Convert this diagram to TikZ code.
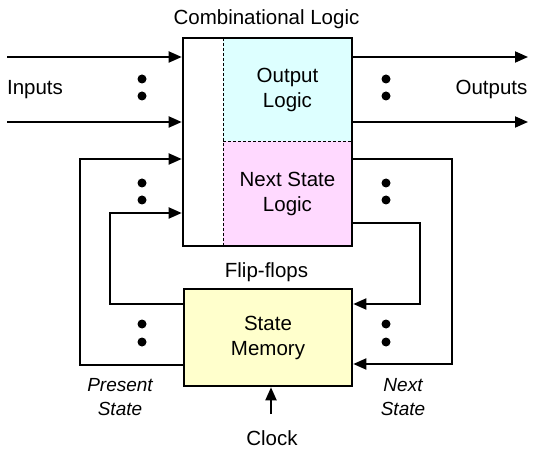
\documentclass[tikz,border=0pt]{standalone}
\usepackage{fontspec}
\setmainfont{Liberation Sans}
\usetikzlibrary{arrows.meta}
\definecolor{cyanlite}{RGB}{221,255,255}
\definecolor{pinklite}{RGB}{255,217,255}
\definecolor{yellite}{RGB}{255,255,204}
\tikzset{
  lbl/.style={font=\fontsize{20.5}{25}\selectfont, inner sep=0pt},
  ital/.style={font=\fontsize{19}{24}\selectfont\itshape, inner sep=0pt, align=center},
  region/.style={inner sep=0pt, outer sep=0pt, align=center, font=\fontsize{20.5}{25}\selectfont},
  wire/.style={line width=1.8pt},
  arr/.style={line width=1.9pt, -{Triangle[length=13pt,width=11pt]}},
  dotnode/.style={circle, fill=black, inner sep=0pt, minimum size=9pt},
  boxnode/.style={draw=black, line width=2.6pt, inner sep=0pt}
}
\begin{document}
\begin{tikzpicture}[x=1pt,y=-1pt]
\useasboundingbox (0,0) rectangle (533,449);
% regions
\node[region, fill=cyanlite, minimum width=129pt, minimum height=103pt] (outl) at (287.5,89.5) {Output\\Logic};
\node[region, fill=pinklite, minimum width=129pt, minimum height=105pt] (nsl) at (287.5,193.5) {Next State\\Logic};
\draw[line width=0.8pt, dash pattern=on 3pt off 2pt] (outl.north west) -- (nsl.south west);
\draw[line width=0.8pt, dash pattern=on 3pt off 2pt] (outl.south west) -- (outl.south east);
\node[boxnode, minimum width=169pt, minimum height=208pt] (comb) at (267.5,142) {};
\node[boxnode, fill=yellite, minimum width=168pt, minimum height=97pt, align=center, font=\fontsize{20.5}{25}\selectfont] (mem) at (268,337.5) {State\\Memory};
% labels
\node[lbl, anchor=base] (title) at (266.5,25) {Combinational Logic};
\node[lbl, anchor=base] (inputs) at (35,95) {Inputs};
\node[lbl, anchor=base] (outputs) at (491.5,95) {Outputs};
\node[lbl, anchor=base] (ff) at (266.5,278) {Flip-flops};
\node[lbl, anchor=base] (clock) at (272,445) {Clock};
\node[ital] (pres) at (120,397) {Present\\State};
\node[ital] (next) at (403,397) {Next\\State};
% coordinates
\coordinate (in1) at (7,57);
\coordinate (in2) at (7,122);
\coordinate (out1) at (528,57);
\coordinate (out2) at (528,122);
\coordinate (ro1) at (452,159);
\coordinate (ro2) at (452,364);
\coordinate (ri1) at (420,223);
\coordinate (ri2) at (420,304);
\coordinate (lo1) at (80,365);
\coordinate (lo2) at (80,159);
\coordinate (li1) at (110,304);
\coordinate (li2) at (110,213);
\coordinate (clk) at (271,414);
% wires
\draw[arr] (in1) -- (comb.west |- in1);
\draw[arr] (in2) -- (comb.west |- in2);
\draw[arr] (comb.east |- out1) -- (out1);
\draw[arr] (comb.east |- out2) -- (out2);
\draw[arr] (comb.east |- ro1) -- (ro1) -- (ro2) -- (mem.east |- ro2);
\draw[arr] (comb.east |- ri1) -- (ri1) -- (ri2) -- (mem.east |- ri2);
\draw[arr] (mem.west |- lo1) -- (lo1) -- (lo2) -- (comb.west |- lo2);
\draw[arr] (mem.west |- li1) -- (li1) -- (li2) -- (comb.west |- li2);
\draw[arr] (clk) -- (mem.south -| clk);
% dots
\node[dotnode] (d1) at (142,79) {};
\node[dotnode] (d2) at (142,96) {};
\node[dotnode] (d3) at (142,183) {};
\node[dotnode] (d4) at (142,200) {};
\node[dotnode] (d5) at (142,324) {};
\node[dotnode] (d6) at (142,342) {};
\node[dotnode] (d7) at (386,79) {};
\node[dotnode] (d8) at (386,96) {};
\node[dotnode] (d9) at (386,183) {};
\node[dotnode] (d10) at (386,200) {};
\node[dotnode] (d11) at (386,324) {};
\node[dotnode] (d12) at (386,342) {};
\end{tikzpicture}
\end{document}
